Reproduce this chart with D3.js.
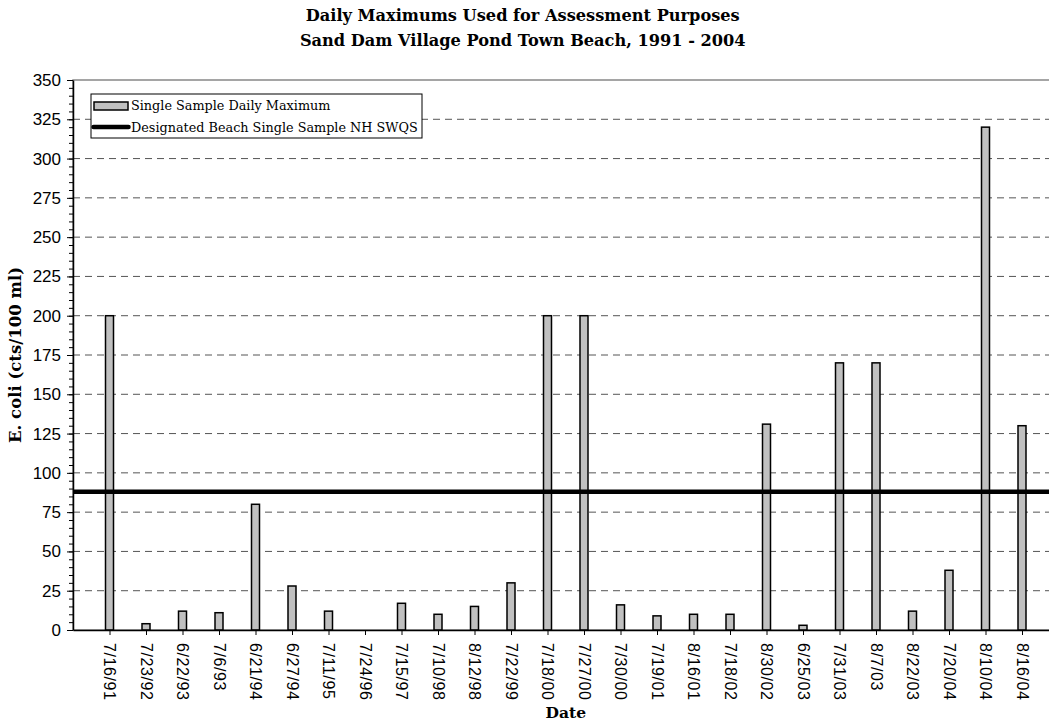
<!DOCTYPE html>
<html>
<head>
<meta charset="utf-8">
<script src="https://cdn.jsdelivr.net/npm/d3@7"></script>
<style>
  body { margin: 0; background: #fff; }
  svg { display: block; overflow: hidden; }
</style>
</head>
<body>
<svg id="chart"></svg>
<script>
// sample dates (one bar each)
var dates = ["7/16/91","7/23/92","6/22/93","7/6/93","6/21/94","6/27/94","7/11/95","7/24/96",
  "7/15/97","7/10/98","8/12/98","7/22/99","7/18/00","7/27/00","7/30/00","7/19/01","8/16/01",
  "7/18/02","8/30/02","6/25/03","7/31/03","8/7/03","8/22/03","7/20/04","8/10/04","8/16/04"]
// E. coli daily max, cts/100 ml (7/24/96 has no bar)
var values = [200,4,12,11,80,28,12,null,17,10,15,30,200,200,16,9,10,10,131,3,170,170,12,38,320,130]
var standard = 88
var yTicks = [0,25,50,75,100,125,150,175,200,225,250,275,300,325,350]
var titleLines = ["Daily Maximums Used for Assessment Purposes",
  "Sand Dam Village Pond Town Beach, 1991 - 2004"]
var legendLabels = ["Single Sample Daily Maximum", "Designated Beach Single Sample NH SWQS"]

var W = 1049, H = 723
var margin = {left: 73, top: 80}
var plotW = 985.5, plotH = 550
var serif = "'DejaVu Serif', serif"
var sans = "'Liberation Sans', Arial, sans-serif"

var svg = d3.select("#chart").attr("width", W).attr("height", H)

var x = d3.scalePoint().domain(dates).range([0, plotW]).padding(1)
var y = d3.scaleLinear().domain([0, 350]).range([plotH, 0])

var g = svg.append("g").attr("transform", `translate(${margin.left},${margin.top})`)

// plot area border
g.append("rect")
  .attr("width", plotW).attr("height", plotH)
  .attr("fill", "none").attr("stroke", "#888").attr("stroke-width", 1.5)

// dashed gridlines
g.append("g").selectAll("line")
  .data(yTicks.filter(t => t > 0 && t < 350))
  .join("line")
  .attr("x1", 0).attr("x2", plotW)
  .attr("y1", d => y(d)).attr("y2", d => y(d))
  .attr("stroke", "#555").attr("stroke-width", 1)
  .attr("stroke-dasharray", "7,5")

// bars
var barW = 8
g.append("g").selectAll("rect")
  .data(dates.map((d, i) => ({date: d, v: values[i]})).filter(d => d.v != null))
  .join("rect")
  .attr("x", d => x(d.date) - barW / 2)
  .attr("width", barW)
  .attr("y", d => y(d.v))
  .attr("height", d => y(0) - y(d.v))
  .attr("fill", "#c0c0c0")
  .attr("stroke", "#000")
  .attr("stroke-width", 1.5)

// standard line
g.append("line")
  .attr("x1", 0).attr("x2", plotW)
  .attr("y1", y(standard)).attr("y2", y(standard))
  .attr("stroke", "#000").attr("stroke-width", 4.5)

// y axis, minor ticks every 5
g.append("g")
  .call(d3.axisLeft(y).tickValues(d3.range(0, 351, 5)).tickSize(4).tickFormat(""))
  .call(a => a.select(".domain").remove())
  .selectAll("line").attr("stroke", "#000")
var yAxis = g.append("g")
  .call(d3.axisLeft(y).tickValues(yTicks).tickSize(6).tickSizeOuter(0).tickPadding(6))
yAxis.select(".domain").attr("stroke", "#000").attr("stroke-width", 1.5)
yAxis.selectAll("text").attr("font-family", sans).attr("font-size", 17).attr("fill", "#000")

// x axis
var xAxis = g.append("g").attr("transform", `translate(0,${plotH})`)
  .call(d3.axisBottom(x).tickSize(5).tickSizeOuter(0))
xAxis.select(".domain").attr("stroke", "#000").attr("stroke-width", 1.5)
xAxis.selectAll("text")
  .attr("font-family", sans).attr("font-size", 16).attr("fill", "#000")
  .attr("letter-spacing", 0.6)
  .attr("transform", "rotate(90)")
  .attr("text-anchor", "start")
  .attr("x", 13).attr("y", 0).attr("dy", "0.35em")

// titles
svg.append("g").selectAll("text")
  .data(titleLines)
  .join("text")
  .attr("x", margin.left + plotW / 2 - 43)
  .attr("y", (d, i) => 21 + i * 25)
  .attr("text-anchor", "middle")
  .attr("font-family", serif).attr("font-weight", "bold").attr("font-size", 16.2)
  .text(d => d)

svg.append("text")
  .attr("x", margin.left + plotW / 2)
  .attr("y", 718)
  .attr("text-anchor", "middle")
  .attr("font-family", serif).attr("font-weight", "bold").attr("font-size", 15.5)
  .text("Date")

svg.append("text")
  .attr("transform", `translate(21,${margin.top + plotH / 2}) rotate(-90)`)
  .attr("text-anchor", "middle")
  .attr("font-family", serif).attr("font-weight", "bold").attr("font-size", 16.5)
  .text("E. coli (cts/100 ml)")

// legend
var lg = svg.append("g").attr("transform", "translate(91,94)")
lg.append("rect").attr("width", 331).attr("height", 44)
  .attr("fill", "#fff").attr("stroke", "#000").attr("stroke-width", 1)
lg.append("rect").attr("x", 3).attr("y", 8).attr("width", 34).attr("height", 8)
  .attr("fill", "#c0c0c0").attr("stroke", "#000").attr("stroke-width", 1.5)
lg.append("line").attr("x1", 2.5).attr("x2", 37.5).attr("y1", 33).attr("y2", 33)
  .attr("stroke", "#000").attr("stroke-width", 4.5).attr("stroke-linecap", "round")
lg.selectAll("text.lab")
  .data(legendLabels)
  .join("text")
  .attr("class", "lab")
  .attr("x", 40)
  .attr("y", (d, i) => 16 + i * 21.5)
  .attr("font-family", serif).attr("font-size", 12.8)
  .text(d => d)
</script>
</body>
</html>
